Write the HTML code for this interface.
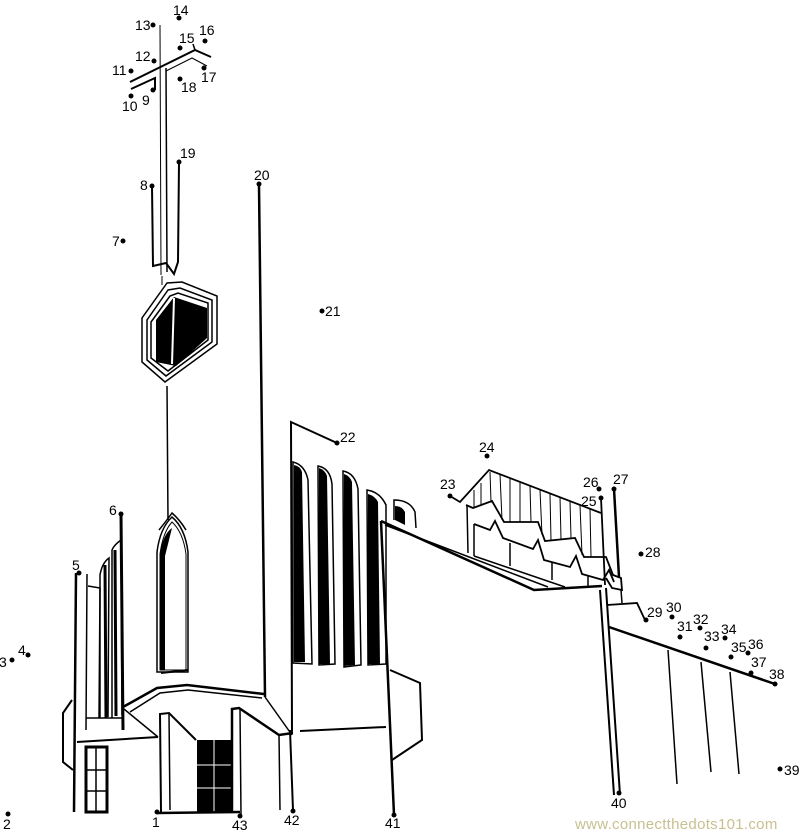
<!DOCTYPE html>
<html><head><meta charset="utf-8"><style>
html,body{margin:0;padding:0;background:#fff;width:800px;height:835px;overflow:hidden}
svg{display:block}
text{font-family:"Liberation Sans",sans-serif;font-size:14px;fill:#000}
</style></head><body>
<svg width="800" height="835" viewBox="0 0 800 835" xmlns="http://www.w3.org/2000/svg">
<g fill="none" stroke="#000" stroke-linejoin="miter">
<!-- cross -->
<line x1="160" y1="25" x2="161" y2="275" stroke-width="1"/>
<line x1="166" y1="68" x2="167" y2="272" stroke-width="1.5"/>
<polyline points="130,82 195,50 211,57" stroke-width="2"/>
<line x1="195" y1="50" x2="193" y2="44" stroke-width="1.5"/>
<polyline points="166,71 192,58 207,66" stroke-width="1"/>
<polyline points="131,89 155,78 155,90" stroke-width="2"/>
<!-- stem -->
<polyline points="152,186 153,266 166,263 174,274 178,262 179,162" stroke-width="2"/>
<polyline points="162,276 162,285" stroke-width="1"/>
<!-- hexagons -->
<polygon points="167,283 142,318 142,362 165,382 217,344 217,296 182,282" stroke-width="1.5"/>
<polygon points="168,290 147,320 147,360 166,376 212,342 212,300 180,288" stroke-width="1.5"/>
<polygon points="170,296 151,322 151,358 168,371 208,340 208,303 178,293" stroke-width="1.5"/>
<polygon points="156,320 174,297 207,308 207,338 176,366 156,362" fill="#000" stroke="none"/>
<line x1="174" y1="298" x2="172" y2="364" stroke="#fff" stroke-width="2"/>
<line x1="167" y1="386" x2="168" y2="520" stroke-width="1.5"/>
<!-- tower edge -->
<line x1="259" y1="186" x2="265" y2="697" stroke-width="2.5"/>
<!-- gothic window -->
<path d="M157,672 L157,552 Q160,528 172,517 Q185,528 188,552 L188,672 Z" stroke-width="1.5"/>
<path d="M160,670 L160,554 Q163,532 172,522 Q183,532 186,554 L186,670 L160,670 Z" stroke-width="1"/>
<path d="M160,670 L160,554 Q163,534 172,528 L165,556 L165,670 Z" fill="#000" stroke="none"/>
<line x1="161" y1="673" x2="188" y2="670" stroke-width="2"/>
<path d="M159,530 Q167,520 172,513 Q180,520 186,530" stroke-width="1.5"/>
<!-- left pillars -->
<line x1="76" y1="573" x2="74" y2="812" stroke-width="2.5"/>
<line x1="87" y1="574" x2="86" y2="730" stroke-width="1.5"/>
<polyline points="88,586 100,588 99,718" stroke-width="1.5"/>
<path d="M100,718 L100,575 Q102,563 109,558 L108,717" stroke-width="1.5"/>
<path d="M112,718 L112,550 Q114,545 121,540 L122,715" stroke-width="1.5"/>
<line x1="121" y1="514" x2="123" y2="730" stroke-width="3"/>
<line x1="105" y1="565" x2="106" y2="718" stroke-width="3"/>
<line x1="115" y1="550" x2="116" y2="716" stroke-width="3"/>
<line x1="86" y1="718" x2="122" y2="718" stroke-width="1.5"/>
<polyline points="72,700 63,713 63,762 73,770" stroke-width="2"/>
<line x1="77" y1="742" x2="158" y2="737" stroke-width="2"/>
<rect x="86" y="747" width="21" height="65" stroke-width="3"/>
<line x1="96" y1="747" x2="96" y2="812" stroke-width="1.5"/>
<line x1="86" y1="770" x2="107" y2="770" stroke-width="1.5"/>
<line x1="86" y1="791" x2="107" y2="791" stroke-width="1.5"/>
<!-- porch -->
<polyline points="123,707 157,688 187,685 264,694" stroke-width="2.5"/>
<polyline points="130,712 160,693 188,690 262,698" stroke-width="1.5"/>
<line x1="124" y1="709" x2="158" y2="737" stroke-width="1.5"/>
<polyline points="161,812 160,714 169,713 196,740" stroke-width="2"/>
<line x1="169" y1="714" x2="170" y2="810" stroke-width="1.5"/>
<rect x="197" y="740" width="35" height="73" fill="#000" stroke="none"/>
<line x1="214" y1="740" x2="214" y2="813" stroke="#fff" stroke-width="1"/>
<line x1="197" y1="765" x2="232" y2="765" stroke="#fff" stroke-width="1"/>
<line x1="197" y1="788" x2="232" y2="788" stroke="#fff" stroke-width="1"/>
<line x1="158" y1="813" x2="240" y2="812" stroke-width="2.5"/>
<polyline points="232,812 232,709 239,708 279,735 293,733" stroke-width="2.5"/>
<line x1="240" y1="709" x2="241" y2="815" stroke-width="1.5"/>
<line x1="279" y1="735" x2="280" y2="810" stroke-width="1.5"/>
<line x1="265" y1="697" x2="292" y2="735" stroke-width="1.5"/>
<line x1="290" y1="730" x2="293" y2="810" stroke-width="2"/>
<!-- middle building -->
<polyline points="292,733 291,422 337,443" stroke-width="2"/>
<line x1="300" y1="731" x2="386" y2="727" stroke-width="2"/>
<g stroke-width="1.5">
<path d="M293,663 L293,462 Q305,465 308,480 L312,664 Z"/>
<path d="M319,665 L318,466 Q330,468 332,484 L335,664 Z"/>
<path d="M344,667 L343,471 Q355,473 358,489 L361,665 Z"/>
<path d="M368,665 L367,490 Q380,492 386,505 L386,664 Z"/>
<path d="M394,520 L394,500 Q410,500 415,512 L416,528"/>
</g>
<g fill="#000" stroke="none">
<path d="M294,662 L294,465 Q300,466 302,472 L305,662 Z"/>
<path d="M319,664 L319,468 Q325,470 327,476 L330,664 Z"/>
<path d="M344,666 L344,474 Q350,476 352,482 L355,665 Z"/>
<path d="M368,664 L368,494 Q375,496 378,502 L380,664 Z"/>
<path d="M395,520 L395,506 Q402,506 405,512 L405,525 Z"/>
</g>
<!-- right nave -->
<line x1="381" y1="521" x2="394" y2="815" stroke-width="2.5"/>
<polyline points="381,521 534,590 602,586" stroke-width="2.5"/>
<line x1="385" y1="525" x2="548" y2="587" stroke-width="1.5"/>
<polyline points="390,670 420,683 422,740 392,760" stroke-width="2"/>
<line x1="600" y1="590" x2="614" y2="795" stroke-width="2"/>
<line x1="606" y1="588" x2="620" y2="795" stroke-width="2"/>
<!-- upper structure -->
<polyline points="450,496 460,502 489,470 601,513" stroke-width="1.8"/>
<polyline points="466,505 473,508 492,501 504,522 538,522 545,541 575,538 584,557 606,557 613,575 621,578 622,590 612,588 606,578" stroke-width="1.8"/>
<polyline points="474,524 490,530 495,521 503,538 533,549 538,540 544,560 570,567 576,556 582,574 603,580 609,570 614,582" stroke-width="1.8"/>
<line x1="474" y1="556" x2="565" y2="587" stroke-width="1.5"/>
<line x1="467" y1="505" x2="468" y2="553" stroke-width="1.5"/>
<line x1="474" y1="524" x2="474" y2="556" stroke-width="1.5"/>
<line x1="510" y1="543" x2="510" y2="566" stroke-width="1.5"/>
<line x1="552" y1="562" x2="552" y2="580" stroke-width="1.5"/>
<line x1="588" y1="576" x2="588" y2="586" stroke-width="1.5"/>
<g stroke-width="1">
<line x1="474" y1="490" x2="474" y2="507"/><line x1="481" y1="483" x2="481" y2="505"/>
<line x1="490" y1="472" x2="491" y2="502"/><line x1="500" y1="474" x2="502" y2="520"/>
<line x1="510" y1="478" x2="510" y2="522"/><line x1="520" y1="482" x2="520" y2="522"/>
<line x1="530" y1="486" x2="531" y2="522"/><line x1="540" y1="490" x2="542" y2="535"/>
<line x1="550" y1="494" x2="551" y2="540"/><line x1="560" y1="497" x2="561" y2="539"/>
<line x1="570" y1="501" x2="571" y2="538"/><line x1="580" y1="505" x2="582" y2="555"/>
<line x1="590" y1="509" x2="591" y2="557"/>
</g>
<line x1="601" y1="498" x2="605" y2="585" stroke-width="1.8"/>
<line x1="614" y1="489" x2="619" y2="577" stroke-width="2.5"/>
<line x1="621" y1="590" x2="622" y2="603" stroke-width="1.5"/>
<polyline points="607,605 637,603 645,620" stroke-width="1.8"/>
<line x1="609" y1="627" x2="775" y2="684" stroke-width="2.5"/>
<line x1="668" y1="650" x2="677" y2="784" stroke-width="1.5"/>
<line x1="701" y1="662" x2="711" y2="772" stroke-width="1.5"/>
<line x1="730" y1="672" x2="739" y2="774" stroke-width="1.5"/>
</g>
<!-- dots -->
<g fill="#000">
<circle cx="157" cy="812" r="2.5"/><circle cx="8" cy="814" r="2.5"/><circle cx="12" cy="660" r="2.5"/><circle cx="28" cy="655" r="2.5"/>
<circle cx="79" cy="573" r="2.5"/><circle cx="121" cy="514" r="2.5"/><circle cx="123" cy="241" r="2.5"/><circle cx="152" cy="186" r="2.5"/>
<circle cx="153" cy="90" r="2.5"/><circle cx="131" cy="96" r="2.5"/><circle cx="131" cy="71" r="2.5"/><circle cx="154" cy="61" r="2.5"/>
<circle cx="153" cy="25" r="2.5"/><circle cx="179" cy="18" r="2.5"/><circle cx="180" cy="48" r="2.5"/><circle cx="205" cy="41" r="2.5"/>
<circle cx="204" cy="68" r="2.5"/><circle cx="180" cy="79" r="2.5"/><circle cx="179" cy="162" r="2.5"/><circle cx="259" cy="184" r="2.5"/>
<circle cx="322" cy="311" r="2.5"/><circle cx="337" cy="443" r="2.5"/><circle cx="450" cy="496" r="2.5"/><circle cx="487" cy="456" r="2.5"/>
<circle cx="601" cy="498" r="2.5"/><circle cx="599" cy="489" r="2.5"/><circle cx="614" cy="489" r="2.5"/><circle cx="641" cy="554" r="2.5"/>
<circle cx="646" cy="620" r="2.5"/><circle cx="672" cy="617" r="2.5"/><circle cx="680" cy="637" r="2.5"/><circle cx="700" cy="628" r="2.5"/>
<circle cx="706" cy="648" r="2.5"/><circle cx="725" cy="638" r="2.5"/><circle cx="731" cy="657" r="2.5"/><circle cx="748" cy="653" r="2.5"/>
<circle cx="751" cy="673" r="2.5"/><circle cx="775" cy="684" r="2.5"/><circle cx="780" cy="769" r="2.5"/><circle cx="619" cy="793" r="2.5"/>
<circle cx="394" cy="815" r="2.5"/><circle cx="293" cy="811" r="2.5"/><circle cx="240" cy="816" r="2.5"/>
</g>
<g>
<text x="152" y="827">1</text><text x="3" y="829">2</text><text x="-1" y="667">3</text><text x="18" y="655">4</text>
<text x="72" y="570">5</text><text x="109" y="515">6</text><text x="112" y="246">7</text><text x="140" y="190">8</text>
<text x="142" y="105">9</text><text x="122" y="111">10</text><text x="112" y="75">11</text><text x="135" y="61">12</text>
<text x="135" y="30">13</text><text x="173" y="15">14</text><text x="179" y="43">15</text><text x="199" y="35">16</text>
<text x="201" y="82">17</text><text x="181" y="92">18</text><text x="180" y="158">19</text><text x="254" y="180">20</text>
<text x="325" y="316">21</text><text x="340" y="442">22</text><text x="440" y="489">23</text><text x="479" y="452">24</text>
<text x="581" y="506">25</text><text x="583" y="487">26</text><text x="613" y="484">27</text><text x="645" y="557">28</text>
<text x="647" y="617">29</text><text x="666" y="612">30</text><text x="677" y="631">31</text><text x="693" y="624">32</text>
<text x="704" y="641">33</text><text x="721" y="634">34</text><text x="731" y="652">35</text><text x="748" y="649">36</text>
<text x="751" y="667">37</text><text x="769" y="679">38</text><text x="784" y="775">39</text><text x="611" y="808">40</text>
<text x="385" y="828">41</text><text x="284" y="825">42</text><text x="232" y="830">43</text>
</g>
<text x="575" y="829" style="font-size:15px;fill:#c8c090;letter-spacing:0.3px">www.connectthedots101.com</text>
</svg>
</body></html>
